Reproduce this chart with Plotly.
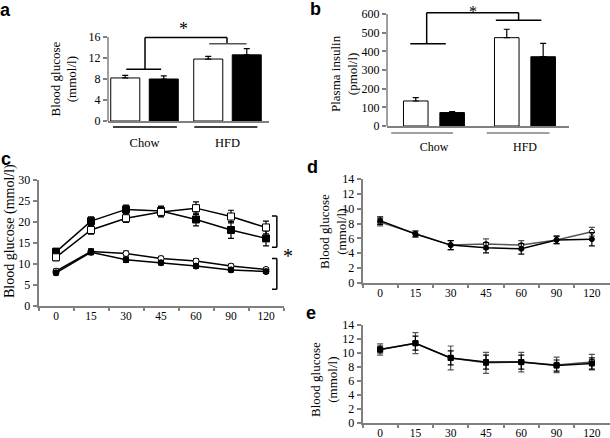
import plotly.graph_objects as go

# ---------------- data ----------------
groups = ["Chow", "HFD"]

# a: blood glucose (mmol/l)
glucose_open = [8.2, 11.8]
glucose_open_err = [0.5, 0.5]
glucose_filled = [8.0, 12.6]
glucose_filled_err = [0.6, 1.2]

# b: plasma insulin (pmol/l)
insulin_open = [134, 473]
insulin_open_err = [18, 45]
insulin_filled = [72, 371]
insulin_filled_err = [5, 71]

# c, d, e: time courses (min)
times = ["0", "15", "30", "45", "60", "90", "120"]

c_hfd_filled = [12.9, 20.2, 23.0, 22.6, 20.6, 18.1, 16.1]
c_hfd_filled_err = [0.8, 1.0, 1.0, 1.2, 1.5, 2.0, 1.8]
c_hfd_open = [11.6, 18.1, 20.9, 22.4, 23.3, 21.3, 18.7]
c_hfd_open_err = [0.8, 1.0, 1.0, 1.2, 1.5, 1.5, 1.5]
c_chow_open = [8.3, 13.0, 12.5, 11.3, 10.7, 9.5, 8.7]
c_chow_open_err = [0.5, 0.6, 0.6, 0.5, 0.5, 0.5, 0.4]
c_chow_filled = [7.9, 12.8, 11.0, 10.3, 9.5, 8.6, 8.2]
c_chow_filled_err = [0.5, 0.6, 0.6, 0.5, 0.5, 0.5, 0.4]

d_open = [8.2, 6.6, 5.1, 5.25, 5.1, 5.8, 6.9]
d_open_err = [0.5, 0.4, 0.6, 0.7, 0.6, 0.5, 0.6]
d_filled = [8.4, 6.6, 5.1, 4.75, 4.6, 5.8, 5.9]
d_filled_err = [0.5, 0.4, 0.6, 0.7, 0.7, 0.5, 0.9]

e_open = [10.5, 11.4, 9.3, 8.6, 8.7, 8.3, 8.7]
e_open_err = [0.8, 1.5, 1.7, 1.5, 1.4, 1.1, 1.1]
e_filled = [10.5, 11.4, 9.3, 8.7, 8.7, 8.2, 8.5]
e_filled_err = [0.5, 1.0, 1.0, 1.0, 1.0, 0.8, 0.8]

# ---------------- helpers ----------------
W, H = 610, 438
serif = "Liberation Serif"
grey = "#808080"


def px(x):
    return x / W


def py(y):
    return 1 - y / H


fig = go.Figure()
shapes = []
annotations = []


def bars(xa, ya, open_v, open_e, filled_v, filled_e, centre, width):
    for vals, errs, fill, sign in [(open_v, open_e, "white", -1),
                                   (filled_v, filled_e, "black", 1)]:
        fig.add_trace(go.Bar(
            x=groups, y=vals, xaxis=xa, yaxis=ya,
            width=width, offset=sign * centre - width / 2,
            marker=dict(color=fill, line=dict(color="black", width=1)),
            error_y=dict(type="data", array=errs, arrayminus=[0] * len(errs),
                         symmetric=False, color="black", thickness=1.2, width=3),
        ))


def lines(xa, ya, vals, errs, fill, symbol, size, col="black"):
    fig.add_trace(go.Scatter(
        x=times, y=vals, xaxis=xa, yaxis=ya, mode="lines+markers",
        line=dict(color=col, width=1.5),
        marker=dict(symbol=symbol, size=size, color=fill,
                    line=dict(color="black", width=1)),
        error_y=dict(type="data", array=errs, color=col, thickness=1.2, width=3),
    ))


def seg(xr, yr, x0, y0, x1, y1, col="black", w=1.5):
    shapes.append(dict(type="line", xref=xr, yref=yr, x0=x0, y0=y0, x1=x1, y1=y1,
                       line=dict(color=col, width=w)))


def label(x, y, text, size=13, angle=0, family=serif, xref="paper", yref="paper"):
    annotations.append(dict(x=x, y=y, xref=xref, yref=yref, text=text,
                            showarrow=False, textangle=angle,
                            xanchor="center", yanchor="middle",
                            font=dict(family=family, size=size, color="black")))


# ---------------- panel a ----------------
bars("x", "y", glucose_open, glucose_open_err, glucose_filled, glucose_filled_err,
     0.232, 0.35)
seg("x domain", "y", 0, 0, 0, 16, grey)
seg("x", "paper", -0.38, py(127), 0.39, py(127))
seg("x", "paper", 0.60, py(127), 1.36, py(127))
seg("x", "y", -0.22, 9.85, 0.2, 9.85)
seg("x", "y", 0.006, 9.85, 0.006, 15.9)
seg("x", "y", 0.006, 15.9, 0.994, 15.9)
seg("x", "y", 0.994, 15.9, 0.994, 14.7)
seg("x", "y", 0.78, 14.7, 1.23, 14.7, "#555555")
label(0.464, 17.6, "*", 18, xref="x", yref="y")

# ---------------- panel b ----------------
bars("x2", "y2", insulin_open, insulin_open_err, insulin_filled, insulin_filled_err,
     0.2, 0.27)
seg("x2 domain", "y2", 0, 0, 0, 600, grey)
seg("x2", "paper", -0.47, py(133), 0.21, py(133), grey)
seg("x2", "paper", 0.58, py(133), 1.27, py(133), grey)
seg("x2", "y2", -0.26, 440, 0.13, 440)
seg("x2", "y2", -0.08, 440, -0.08, 607)
seg("x2", "y2", -0.08, 607, 0.93, 607)
seg("x2", "y2", 0.93, 607, 0.93, 566)
seg("x2", "y2", 0.68, 566, 1.18, 566)
label(0.43, 612, "*", 16, xref="x2", yref="y2")

# ---------------- panel c ----------------
lines("x3", "y3", c_hfd_filled, c_hfd_filled_err, "black", "square", 7)
lines("x3", "y3", c_hfd_open, c_hfd_open_err, "white", "square", 7)
lines("x3", "y3", c_chow_open, c_chow_open_err, "white", "circle", 6)
lines("x3", "y3", c_chow_filled, c_chow_filled_err, "black", "circle", 6)
for lo, hi in [(14.0, 21.4), (4.0, 11.3)]:
    seg("x3", "y3", 6.31, lo, 6.31, hi)
    seg("x3", "y3", 6.17, lo, 6.31, lo)
    seg("x3", "y3", 6.17, hi, 6.31, hi)
label(px(288), py(256), "*", 20)

# ---------------- panels d, e ----------------
lines("x4", "y4", d_open, d_open_err, "white", "circle", 5, "#555555")
lines("x4", "y4", d_filled, d_filled_err, "black", "circle", 5)
lines("x5", "y5", e_open, e_open_err, "white", "square", 5, "#555555")
lines("x5", "y5", e_filled, e_filled_err, "black", "square", 5)

# ---------------- titles and panel letters ----------------
label(px(63.5), py(79), "Blood glucose<br>(mmol/l)", 13, -90)
label(px(344), py(74), "Plasma insulin<br>(pmol/l)", 13, -90)
label(px(10), py(231), "Blood glucose (mmol/l)", 14, -90)
label(px(333), py(232), "Blood glucose<br>(mmol/l)", 13, -90)
label(px(324), py(379), "Blood glucose<br>(mmol/l)", 13, -90)
for x, y, t in [(5, 10, "a"), (315, 9, "b"), (6, 159, "c"), (313, 167, "d"), (311, 313, "e")]:
    label(px(x), py(y), "<b>%s</b>" % t, 18, family="Liberation Sans")

# ---------------- axes ----------------
tickfont = dict(family=serif, size=12, color="black")
base_y = dict(showgrid=False, zeroline=False, ticks="outside", ticklen=4,
              tickcolor=grey, tickwidth=1.5, tickfont=tickfont,
              showline=False, automargin=False)
base_x = dict(showgrid=False, zeroline=False, showline=True, linecolor=grey,
              linewidth=1.5, tickfont=tickfont, type="category", automargin=False)
line_y = dict(base_y, showline=True, linecolor=grey, linewidth=1.5)
time_x = dict(base_x, ticks="outside", ticklen=3, tickcolor=grey, tickwidth=1.5,
              tickson="boundaries", range=[-0.5, 6.5], ticklabelstandoff=-2,
              tickfont=dict(tickfont, size=11.5))

fig.update_layout(
    template="none",
    width=W, height=H, margin=dict(l=0, r=0, t=0, b=0, autoexpand=False),
    paper_bgcolor="white", plot_bgcolor="white",
    showlegend=False, barmode="overlay",
    font=dict(family=serif, color="black"),
    xaxis=dict(base_x, domain=[px(108), px(269)], range=[-0.44, 1.5], anchor="y",
               ticks="", ticklabelstandoff=9, tickfont=dict(tickfont, size=12.5)),
    yaxis=dict(base_y, domain=[py(121), py(21.25)], range=[0, 19],
               tickvals=[0, 4, 8, 12, 16], anchor="x"),
    xaxis2=dict(base_x, domain=[px(387), px(569)], range=[-0.516, 1.484], anchor="y2",
                ticks="", ticklabelstandoff=9),
    yaxis2=dict(base_y, domain=[py(126), py(2)], range=[0, 664],
                tickvals=[0, 100, 200, 300, 400, 500, 600], anchor="x2"),
    xaxis3=dict(time_x, domain=[px(38.5), px(283.5)], anchor="y3"),
    yaxis3=dict(line_y, domain=[py(306), py(180)], range=[0, 30], dtick=5, anchor="x3"),
    xaxis4=dict(time_x, domain=[px(362.5), px(609.5)], anchor="y4"),
    yaxis4=dict(line_y, domain=[py(283), py(179)], range=[0, 14], dtick=2, anchor="x4"),
    xaxis5=dict(time_x, domain=[px(362.5), px(609.5)], anchor="y5"),
    yaxis5=dict(line_y, domain=[py(423), py(325)], range=[0, 14], dtick=2, anchor="x5"),
    shapes=shapes,
    annotations=annotations,
)

# the page's default body margin would push the figure 8px off
fig.write_html("out.html", config={"displayModeBar": False},
               post_script="document.body.style.margin = '0';")
